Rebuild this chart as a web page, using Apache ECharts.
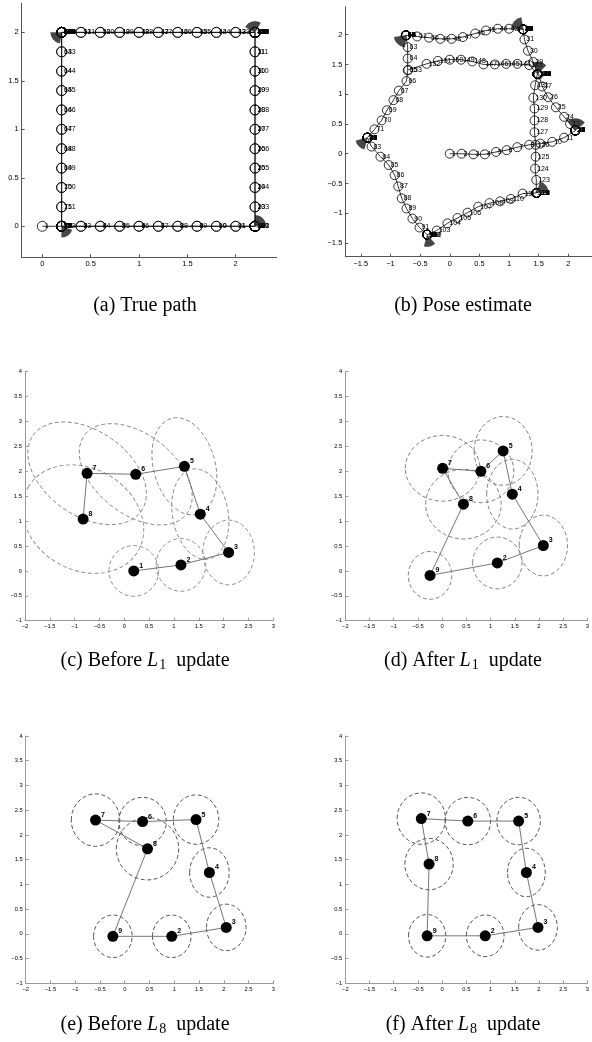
<!DOCTYPE html>
<html><head><meta charset="utf-8">
<script src="https://cdn.jsdelivr.net/npm/echarts@6/dist/echarts.min.js"></script>
<style>html,body{margin:0;padding:0;background:#fff}#c{width:592px;height:1042px}</style>
</head><body><div id="c"></div><script>
// ---------- (a) true path : pose positions (index + 1 = pose number) ----------
const aX = [0,0.2,0.4,0.6,0.8,1,1.2,1.4,1.6,1.8,2,
 2.2,2.2,2.2,2.2,2.2,2.2,2.2,2.2,2.2,2.2,2.2,
 2.2,2.2,2.2,2.2,2.2,2.2,2.2,2.2,2.2,
 2.2,2.2,2.2,2.2,2.2,2.2,2.2,2.2,2.2,2.2,2.2,
 2,1.8,1.6,1.4,1.2,1,0.8,0.6,0.4,
 0.2,0.2,0.2,0.2,0.2,0.2,0.2,0.2,0.2,0.2,0.2,
 0.2,0.2,0.2,0.2,0.2,0.2,0.2,0.2,0.2,
 0.2,0.2,0.2,0.2,0.2,0.2,0.2,0.2,0.2,0.2,0.2,
 0.4,0.6,0.8,1,1.2,1.4,1.6,1.8,2,
 2.2,2.2,2.2,2.2,2.2,2.2,2.2,2.2,2.2,2.2,2.2,
 2.2,2.2,2.2,2.2,2.2,2.2,2.2,2.2,2.2,
 2.2,2.2,2.2,2.2,2.2,2.2,2.2,2.2,2.2,2.2,2.2,
 2,1.8,1.6,1.4,1.2,1,0.8,0.6,0.4,
 0.2,0.2,0.2,0.2,0.2,0.2,0.2,0.2,0.2,0.2,0.2,
 0.2,0.2,0.2,0.2,0.2,0.2,0.2,0.2,0.2,0.2];
const aY = [0,0,0,0,0,0,0,0,0,0,0,
 0,0,0,0,0,0,0,0,0,0,0,
 0.2,0.4,0.6,0.8,1,1.2,1.4,1.6,1.8,
 2,2,2,2,2,2,2,2,2,2,2,
 2,2,2,2,2,2,2,2,2,
 2,2,2,2,2,2,2,2,2,2,2,
 1.8,1.6,1.4,1.2,1,0.8,0.6,0.4,0.2,
 0,0,0,0,0,0,0,0,0,0,0,
 0,0,0,0,0,0,0,0,0,
 0,0,0,0,0,0,0,0,0,0,0,
 0.2,0.4,0.6,0.8,1,1.2,1.4,1.6,1.8,
 2,2,2,2,2,2,2,2,2,2,2,
 2,2,2,2,2,2,2,2,2,
 2,2,2,2,2,2,2,2,2,2,2,
 1.8,1.6,1.4,1.2,1,0.8,0.6,0.4,0.2,0];
// heading fans at the corners (a): position, heading range in degrees
const aFanX = [0.2, 2.2, 2.2, 0.2];
const aFanY = [0, 0, 2, 2];
const aFanFrom = [-90, 0, 60, 180];
const aFanTo = [-20, 90, 150, 260];
const aXTicks = [0, 0.5, 1, 1.5, 2];
const aYTicks = [0, 0.5, 1, 1.5, 2];

// ---------- (b) pose estimate ----------
const bX = [0,0.2,0.4,0.59,0.78,0.96,1.14,1.34,1.53,1.73,1.93,
 2.12,2.12,2.12,2.12,2.12,2.12,2.12,2.12,2.12,2.12,2.12,
 2.03,1.93,1.79,1.66,1.56,1.50,1.41,1.32,1.26,
 1.24,1.24,1.24,1.24,1.24,1.24,1.24,1.24,1.24,1.24,1.24,
 1.00,0.81,0.61,0.43,0.22,0.03,-0.16,-0.35,-0.55,
 -0.74,-0.74,-0.74,-0.74,-0.74,-0.74,-0.74,-0.74,-0.74,-0.74,-0.74,
 -0.71,-0.71,-0.71,-0.73,-0.86,-0.95,-1.06,-1.15,-1.27,
 -1.39,-1.39,-1.39,-1.39,-1.39,-1.39,-1.39,-1.39,-1.39,-1.39,-1.39,
 -1.32,-1.17,-1.03,-0.93,-0.87,-0.81,-0.73,-0.63,-0.51,
 -0.38,-0.38,-0.38,-0.38,-0.38,-0.38,-0.38,-0.38,-0.38,-0.38,-0.38,
 -0.22,-0.04,0.13,0.30,0.48,0.67,0.85,1.03,1.23,
 1.46,1.46,1.46,1.46,1.46,1.46,1.46,1.46,1.46,1.46,1.46,
 1.46,1.44,1.45,1.45,1.43,1.43,1.43,1.41,1.44,
 1.48,1.48,1.48,1.48,1.48,1.48,1.48,1.48,1.48,1.48,1.48,
 1.34,1.14,0.95,0.76,0.57,0.38,0.19,0.00,-0.20,-0.39,-0.70];
const bY = [0,0,-0.01,-0.01,0.03,0.06,0.11,0.15,0.17,0.20,0.27,
 0.39,0.39,0.39,0.39,0.39,0.39,0.39,0.39,0.39,0.39,0.39,
 0.50,0.62,0.78,0.95,1.13,1.33,1.54,1.73,1.92,
 2.09,2.09,2.09,2.09,2.09,2.09,2.09,2.09,2.09,2.09,2.09,
 2.10,2.10,2.07,2.02,1.96,1.93,1.93,1.95,1.97,
 1.99,1.99,1.99,1.99,1.99,1.99,1.99,1.99,1.99,1.99,1.99,
 1.79,1.60,1.40,1.22,1.06,0.90,0.73,0.56,0.41,
 0.27,0.27,0.27,0.27,0.27,0.27,0.27,0.27,0.27,0.27,0.27,
 0.12,-0.05,-0.19,-0.36,-0.55,-0.75,-0.92,-1.09,-1.24,
 -1.36,-1.36,-1.36,-1.36,-1.36,-1.36,-1.36,-1.36,-1.36,-1.36,-1.36,
 -1.29,-1.17,-1.08,-0.99,-0.89,-0.83,-0.80,-0.76,-0.67,
 -0.66,-0.66,-0.66,-0.66,-0.66,-0.66,-0.66,-0.66,-0.66,-0.66,-0.66,
 -0.44,-0.25,-0.05,0.15,0.36,0.56,0.76,0.94,1.15,
 1.34,1.34,1.34,1.34,1.34,1.34,1.34,1.34,1.34,1.34,1.34,
 1.49,1.51,1.51,1.50,1.50,1.55,1.58,1.58,1.56,1.51,1.41];
const bFanX = [2.12, 1.24, -0.74, -1.39, -0.38, 1.46, 1.48];
const bFanY = [0.39, 2.09, 1.99, 0.27, -1.36, -0.66, 1.34];
const bFanFrom = [40, 100, 190, 195, 255, 0, 45];
const bFanTo = [130, 175, 265, 255, 310, 70, 110];
const bXTicks = [-1.5, -1, -0.5, 0, 0.5, 1, 1.5, 2];
const bYTicks = [-1.5, -1, -0.5, 0, 0.5, 1, 1.5, 2];

// ---------- (c)-(f) relaxation graphs ----------
const gridXTicks = [-2,-1.5,-1,-0.5,0,0.5,1,1.5,2,2.5,3];
const gridYTicks = [-1,-0.5,0,0.5,1,1.5,2,2.5,3,3.5,4];

const cLabels = ['1','2','3','4','5','6','7','8'];
const cX = [0.19, 1.14, 2.10, 1.53, 1.21, 0.23, -0.75, -0.83];
const cY = [0.00, 0.12, 0.37, 1.14, 2.10, 1.94, 1.96, 1.04];
const cSemiA = [0.50, 0.50, 0.52, 0.92, 1.00, 1.30, 1.33, 1.28];
const cSemiB = [0.51, 0.53, 0.65, 0.56, 0.62, 0.80, 0.85, 1.02];
const cTilt = [0, 0, 0, 100, 105, -38, -35, -30];
const cPath = [0,1,2,3,4,5,6,7];

const loopLabels = ['9','2','3','4','5','6','7','8'];
const loopPath = [0,1,2,3,4,5,6,7,0];

const dX = [-0.25, 1.14, 2.09, 1.45, 1.26, 0.80, 0.01, 0.44];
const dY = [-0.09, 0.16, 0.51, 1.54, 2.41, 2.00, 2.06, 1.34];
const dSemiA = [0.45, 0.51, 0.50, 0.53, 0.60, 0.68, 0.77, 0.78];
const dSemiB = [0.48, 0.52, 0.61, 0.70, 0.69, 0.63, 0.66, 0.70];
const dTilt = [0,0,0,0,0,0,0,0];

const eX = [-0.24, 0.95, 2.05, 1.71, 1.44, 0.36, -0.59, 0.46];
const eY = [-0.05, -0.05, 0.13, 1.24, 2.31, 2.27, 2.30, 1.72];
const eSemiA = [0.39, 0.39, 0.40, 0.40, 0.46, 0.48, 0.49, 0.63];
const eSemiB = [0.43, 0.43, 0.47, 0.50, 0.50, 0.49, 0.53, 0.63];
const eTilt = [0,0,0,0,0,0,0,0];

const fX = [-0.31, 0.89, 1.98, 1.74, 1.58, 0.53, -0.43, -0.27];
const fY = [-0.04, -0.04, 0.13, 1.24, 2.28, 2.28, 2.33, 1.41];
const fSemiA = [0.385, 0.39, 0.40, 0.39, 0.45, 0.47, 0.50, 0.50];
const fSemiB = [0.43, 0.42, 0.46, 0.49, 0.48, 0.48, 0.52, 0.52];
const fTilt = [0,0,0,0,0,0,0,0];

const captionText = [
  '(a) True path', '(b) Pose estimate',
  '(c) Before {i|L}{s|1}  update', '(d) After {i|L}{s|1}  update',
  '(e) Before {i|L}{s|8}  update', '(f) After {i|L}{s|8}  update'
];

// ---------- rendering ----------
const SANS = '"Liberation Sans", Arial, Helvetica, sans-serif';
const SERIF = '"Liberation Serif", "Times New Roman", serif';
function fmt(v){ return (v < 0 ? '\u2212' : '') + Math.abs(v); }

const grids = [
  {left:21.7, top:3.3, width:255, height:254},
  {left:345.3, top:6.7, width:246.7, height:250},
  {left:25, top:371.7, width:248.3, height:249},
  {left:345.3, top:371.7, width:247, height:249},
  {left:25.7, top:736, width:247.6, height:247.3},
  {left:345.3, top:736, width:247, height:247.3}
];
const ranges = [
  {x:[-0.213, 2.424], y:[-0.32, 2.30], xt:aXTicks, yt:aYTicks, fs:7.5, col:'#555'},
  {x:[-1.763, 2.40], y:[-1.73, 2.47], xt:bXTicks, yt:bYTicks, fs:7.5, col:'#555'},
  {x:[-2, 3], y:[-1, 4], xt:gridXTicks, yt:gridYTicks, fs:5.8, col:'#999'},
  {x:[-2, 3], y:[-1, 4], xt:gridXTicks, yt:gridYTicks, fs:5.8, col:'#999'},
  {x:[-2, 3], y:[-1, 4], xt:gridXTicks, yt:gridYTicks, fs:5.8, col:'#999'},
  {x:[-2, 3], y:[-1, 4], xt:gridXTicks, yt:gridYTicks, fs:5.8, col:'#999'}
];
function mkAxis(dim, gi, r) {
  const mm = dim === 'x' ? r.x : r.y;
  const ticks = dim === 'x' ? r.xt : r.yt;
  return {
    type:'value', gridIndex:gi, min:mm[0], max:mm[1], position: dim === 'x' ? 'bottom' : 'left',
    axisLine:{show:true, onZero:false, lineStyle:{color:r.col, width:1}},
    axisTick:{show:true, inside:true, length:3, lineStyle:{color:r.col, width:1}, customValues:ticks},
    axisLabel:{show:true, customValues:ticks, fontSize:r.fs, color:'#000', margin:3, fontFamily:SANS, formatter:fmt},
    splitLine:{show:false}
  };
}
function pathSeries(gi, xs, ys, size) {
  return {type:'line', xAxisIndex:gi, yAxisIndex:gi, data: xs.map((x,i)=>[x, ys[i]]),
    symbol:'circle', symbolSize:size, showAllSymbol:true, silent:true, z:3,
    lineStyle:{color:'#000', width:0.8},
    itemStyle:{color:'rgba(0,0,0,0)', borderColor:'#000', borderWidth:0.8},
    label:{show:true, position:'right', distance:-3, fontSize:7, fontFamily:SANS, color:'#000',
      formatter: p => String(p.dataIndex + 1)},
    emphasis:{disabled:true}};
}
function fanSeries(gi, fx, fy, f0, f1, R) {
  return {type:'custom', xAxisIndex:gi, yAxisIndex:gi, silent:true, z:4,
    data: fx.map((x,i)=>[x, fy[i], f0[i], f1[i]]),
    renderItem: function(params, api) {
      const c = api.coord([api.value(0), api.value(1)]);
      return {type:'sector', shape:{cx:c[0], cy:c[1], r0:0, r:R,
        startAngle:-api.value(3)*Math.PI/180, endAngle:-api.value(2)*Math.PI/180, clockwise:true},
        style:{fill:'rgba(25,25,25,0.8)', stroke:'rgba(0,0,0,0.5)', lineWidth:0.5}};
    }};
}
function ellipseSeries(gi, xs, ys, sa, sb, tilt, color) {
  return {type:'custom', xAxisIndex:gi, yAxisIndex:gi, silent:true, clip:true, z:1,
    data: xs.map((x,i)=>[x, ys[i], sa[i], sb[i], tilt[i]]),
    renderItem: function(params, api) {
      const c = api.coord([api.value(0), api.value(1)]);
      const s = api.size([1, 1]);
      return {type:'ellipse', x:c[0], y:c[1], rotation: api.value(4)*Math.PI/180,
        shape:{cx:0, cy:0, rx: api.value(2)*s[0], ry: api.value(3)*s[1]},
        style:{fill:'none', stroke:color, lineWidth:0.9, lineDash:[4, 2.5]}};
    }};
}
function edgeSeries(gi, xs, ys, order) {
  return {type:'line', xAxisIndex:gi, yAxisIndex:gi, data: order.map(i=>[xs[i], ys[i]]),
    symbol:'none', silent:true, z:2, lineStyle:{color:'#666', width:0.9}};
}
function nodeSeries(gi, xs, ys, labels) {
  return {type:'scatter', xAxisIndex:gi, yAxisIndex:gi, silent:true, z:5,
    data: xs.map((x,i)=>({value:[x, ys[i]], name:labels[i]})),
    symbol:'circle', symbolSize:11, itemStyle:{color:'#000', opacity:1},
    label:{show:true, position:'right', distance:0, offset:[0,-5], fontSize:7, fontWeight:'bold', fontFamily:SANS,
      color:'#000', formatter: p => p.name}};
}

const capX = [145, 463, 145, 463, 145, 463];
const capY = [306, 306, 661, 661, 1025, 1025];

const chart = echarts.init(document.getElementById('c'), null, {renderer:'canvas'});
chart.setOption({
  animation:false,
  backgroundColor:'#fff',
  grid: grids.map(g => Object.assign({containLabel:false}, g)),
  xAxis: ranges.map((r,i) => mkAxis('x', i, r)),
  yAxis: ranges.map((r,i) => mkAxis('y', i, r)),
  series: [
    pathSeries(0, aX, aY, 10),
    fanSeries(0, aFanX, aFanY, aFanFrom, aFanTo, 11),
    pathSeries(1, bX, bY, 9),
    fanSeries(1, bFanX, bFanY, bFanFrom, bFanTo, 12),
    ellipseSeries(2, cX, cY, cSemiA, cSemiB, cTilt, '#888'),
    edgeSeries(2, cX, cY, cPath),
    nodeSeries(2, cX, cY, cLabels),
    ellipseSeries(3, dX, dY, dSemiA, dSemiB, dTilt, '#777'),
    edgeSeries(3, dX, dY, loopPath),
    nodeSeries(3, dX, dY, loopLabels),
    ellipseSeries(4, eX, eY, eSemiA, eSemiB, eTilt, '#444'),
    edgeSeries(4, eX, eY, loopPath),
    nodeSeries(4, eX, eY, loopLabels),
    ellipseSeries(5, fX, fY, fSemiA, fSemiB, fTilt, '#444'),
    edgeSeries(5, fX, fY, loopPath),
    nodeSeries(5, fX, fY, loopLabels)
  ],
  graphic: captionText.map((t,i) => ({
    type:'text', x:capX[i], y:capY[i], silent:true,
    style:{text:t, fontSize:20, fontFamily:SERIF, fill:'#000', align:'center', verticalAlign:'middle',
      rich:{
        i:{fontSize:20, fontFamily:SERIF, fontStyle:'italic', fill:'#000'},
        s:{fontSize:14, fontFamily:SERIF, fill:'#000', padding:[9,0,0,1]}
      }}
  }))
});
</script></body></html>
